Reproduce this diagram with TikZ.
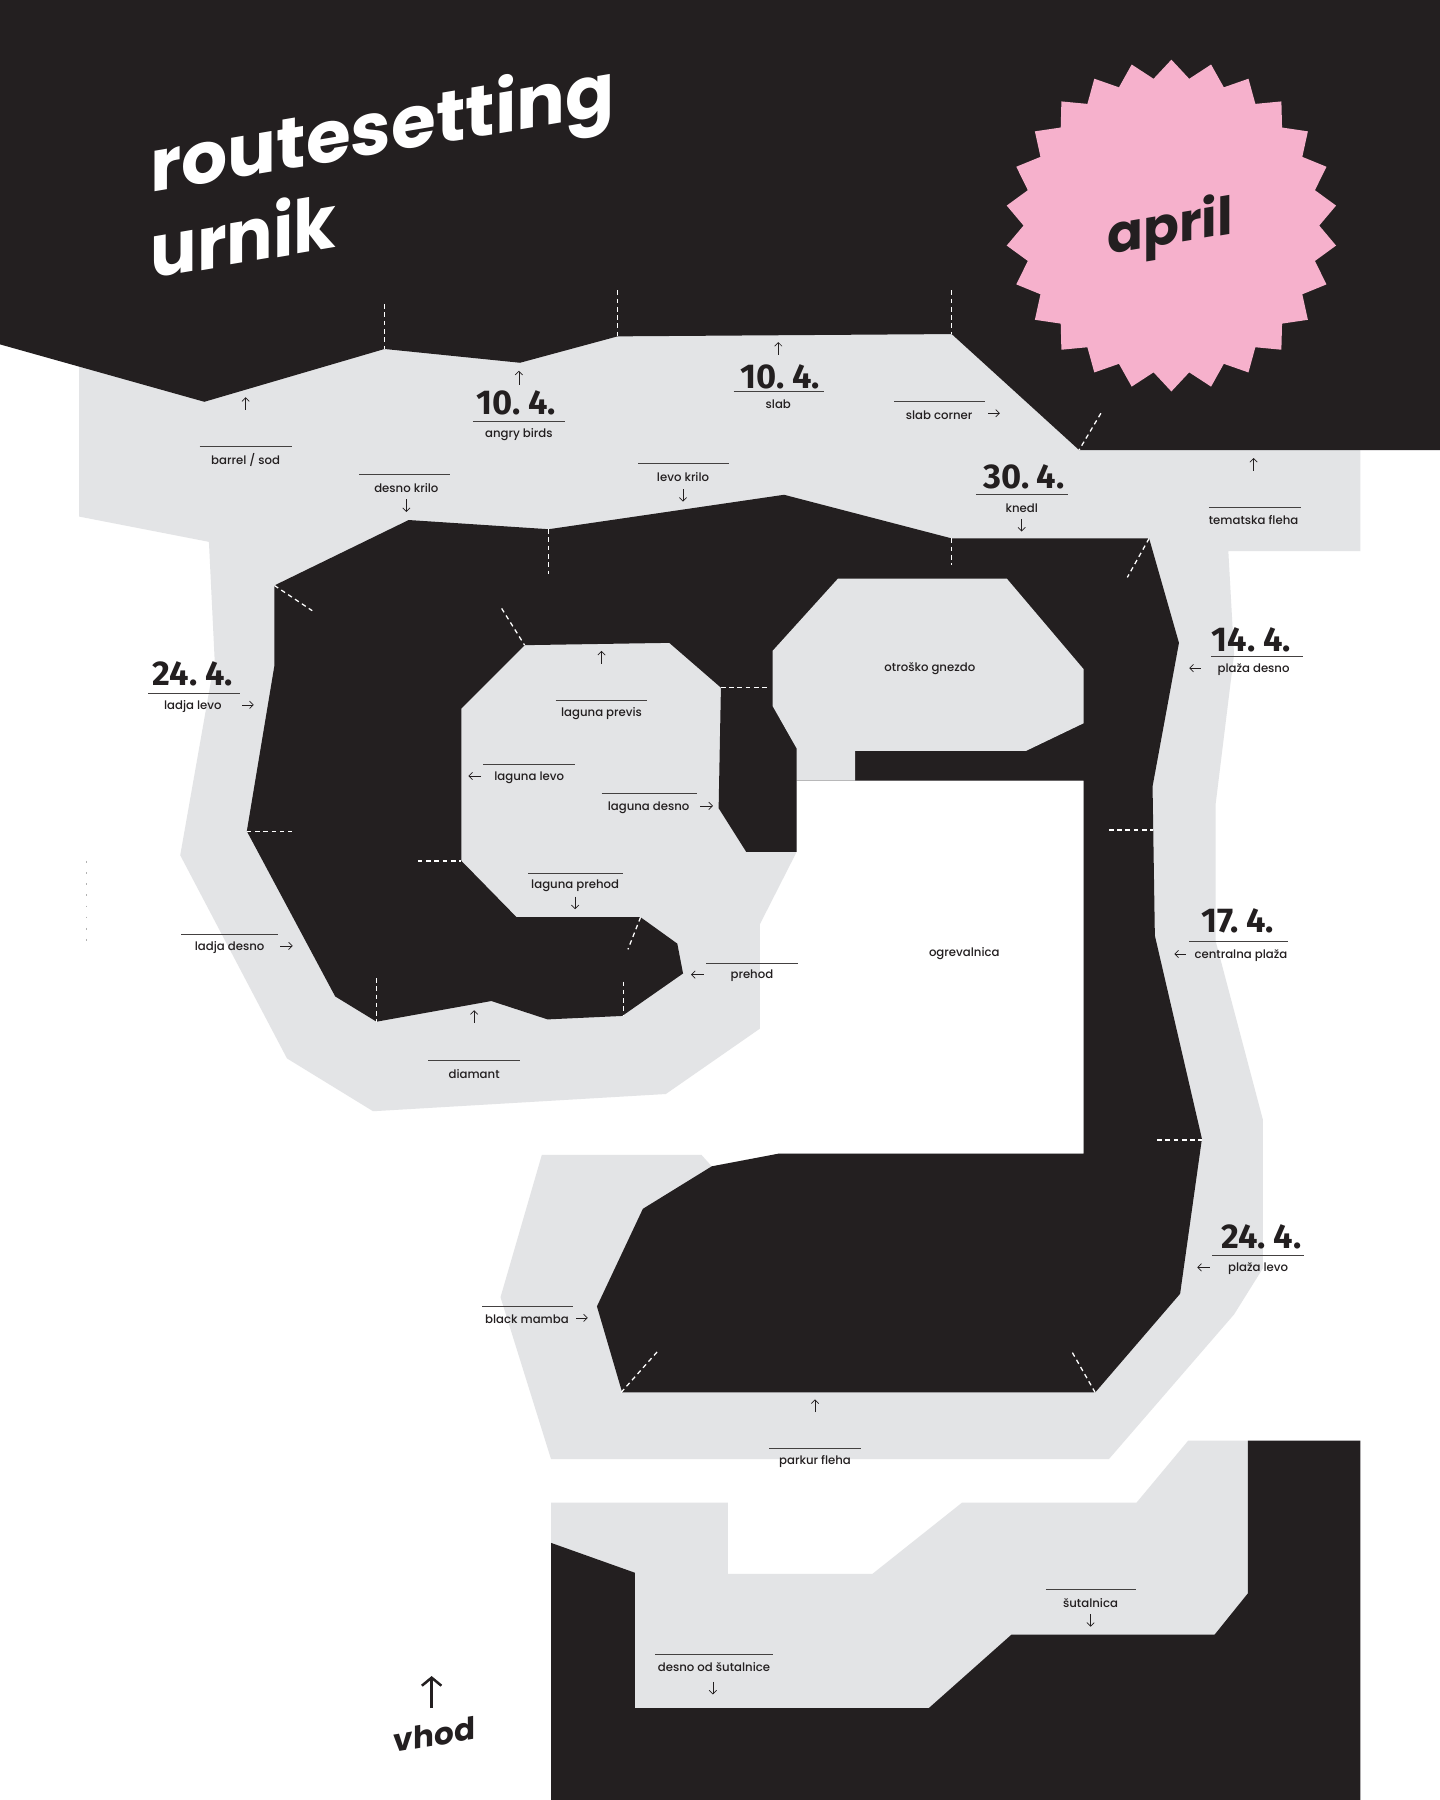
\documentclass[tikz,border=0pt]{standalone}
\usepackage{fontspec}
\usetikzlibrary{arrows.meta}
\setmainfont{Poppins}
\newfontfamily\labf{Poppins Medium}
\newfontfamily\titf{Poppins}[UprightFont=* Bold]
\newfontfamily\datf{Fira Sans}[UprightFont=* Bold,WordSpace=0.6]
\definecolor{ink}{HTML}{231F20}
\definecolor{wall}{HTML}{E3E4E6}
\definecolor{pinky}{HTML}{F6B1CC}
\tikzset{
  x=1pt,y=-1pt,
  inkfill/.style={fill=ink,draw=none},
  wallfill/.style={fill=wall,draw=none},
  sector/.style={draw=white,line width=1.1pt,dash pattern=on 4pt off 3.2pt},
  rulel/.style={draw=ink!85!white,line width=0.8pt},
  pointer/.style={draw=ink,line width=0.6pt,-{Straight Barb[length=3.2pt,width=6.4pt,line width=0.6pt]}},
  lab/.style={font=\labf\fontsize{10.2}{12}\selectfont,text=ink,inner sep=0pt,yshift=-1.3pt},
  datelab/.style={font=\datf\fontsize{30}{32}\selectfont,text=ink,inner sep=0pt},
}
% #1 name, #2 x, #3 y, #4 text, #5 rule left x, #6 rule right x, #7 rule y, #8 arrow tail, #9 arrow tip
\newcommand{\spot}[9]{%
  \node[lab] (#1) at (#2,#3) {#4};
  \coordinate (#1-l) at (#5,#7);
  \coordinate (#1-r) at (#6,#7);
  \draw[rulel] (#1-l) -- (#1-r);
  \coordinate (#1-a) at (#8);
  \coordinate (#1-b) at (#9);
  \draw[pointer] (#1-a) -- (#1-b);}
\begin{document}
\begin{tikzpicture}
\useasboundingbox (0,0) rectangle (1254.4,1568);
\fill[white] (0,0) rectangle (1254.4,1568);

% grey climbing floor
\path[wallfill] (69,280)--(1185,280)--(1185,480)--(1070,480)--(1075,570)--(1059,700)--(1059,820)--(1100,975)--(1100,1105)--(1075,1145)--(966,1271)--(480,1271)--(436,1130)--(472,1006)--(611,1006)--(620,1016)--(678,1005)--(944,1005)--(944,680)--(694,680)--(694,742)--(662,805)--(662,896)--(580,953)--(325,968)--(250,922)--(157,745)--(187,575)--(182,472)--(69,450)--cycle;

% dark header
\path[inkfill] (0,0)--(1254.4,0)--(1254.4,392)--(940,392)--(829,291)--(538,293)--(453,316)--(335,304)--(178,350)--(0,300)--cycle;

% dark main wall
\path[inkfill] (239,510)--(356,453)--(478,461)--(683,431)--(829,469)--(1001,469)--(1027,560)--(1004,685)--(1006,815)--(1047,992)--(1028,1127)--(954,1213)--(542,1213)--(520,1138)--(560,1053)--(620,1016)--(678,1005)--(944,1005)--(944,680)--(694,680)--(694,742)--(650,742)--(626,704)--(628,599)--(583,560)--(457,562)--(402,617)--(402,750)--(450,799)--(558,799)--(590,822)--(595,848)--(542,885)--(477,888)--(428,872)--(328,890)--(292,868)--(215,724)--(239,580)--cycle;

% children's nest
\path[wallfill] (730,504)--(877,504)--(944,583)--(944,630)--(894,654)--(745,654)--(745,680)--(694,680)--(694,652)--(673,615)--(673,567)--cycle;

% lower block
\path[wallfill] (480,1309)--(634,1309)--(634,1371)--(760,1371)--(838,1309)--(990,1309)--(1035,1255)--(1087,1255)--(1087,1400)--(1058,1430)--(809,1495)--(540,1495)--(540,1370)--(480,1344)--cycle;
\path[inkfill] (480,1344)--(553,1370)--(553,1488)--(809,1488)--(881,1424)--(1058,1424)--(1087,1388)--(1087,1255)--(1185,1255)--(1185,1568)--(480,1568)--cycle;

% sector marks
\foreach \ax/\ay/\bx/\by in {335/265/335/304,538/253/538/293,829/253/829/291,959/360/940/392,478/461/478/500,829/469/829/492,1001/469/982/503,239/510/272/532,437/530/457/562,628/599/668/599,215/724/254/724,364/750/402/750,966/723/1004/723,1008/993/1047/993,328/852/328/890,543/855/543/885,558/799/547/827,541/1213/573/1177,954/1213/934/1178}
  \draw[sector] (\ax,\ay) -- (\bx,\by);
\draw[draw=black!30,line width=0.7pt,dash pattern=on 1.5pt off 8.2pt] (75.5,750) -- (75.5,820);

% star
\begin{scope}[shift={(1020.4,196.5)}]
\fill[pinky] (90:144.5pt)
  \foreach \i in {0,...,25} { -- ({90+13.846*\i+6.923}:128.8pt) -- ({90+13.846*(\i+1)}:144.5pt) } -- cycle;
\end{scope}

% slanted headings
\begin{scope}[shift={(131,168)},yslant=.17]
\node[transform shape,anchor=base west,inner sep=0pt,text=white,font=\titf\fontsize{63.2}{70}\selectfont] (title1) at (0,0) {routesetting};
\end{scope}
\begin{scope}[shift={(131,243)},yslant=.17,xscale=.94]
\node[transform shape,anchor=base west,inner sep=0pt,text=white,font=\titf\fontsize{64}{70}\selectfont] (title2) at (0,0) {urnik};
\end{scope}
\begin{scope}[shift={(964.5,222)},yslant=.17]
\node[transform shape,anchor=base west,inner sep=0pt,text=ink,font=\titf\fontsize{46}{50}\selectfont] (month) at (0,0) {april};
\end{scope}
\begin{scope}[shift={(343,1527)},yslant=.17]
\node[transform shape,anchor=base west,inner sep=0pt,text=ink,font=\titf\fontsize{27}{30}\selectfont] (vhod) at (0,0) {vhod};
\end{scope}
\coordinate (va) at (376,1488);
\coordinate (vb) at (376,1460);
\draw[draw=ink,line width=2.2pt,-{Straight Barb[length=7pt,width=17pt,line width=2.2pt]}] (va) -- (vb);

% dates
\node[datelab] (d1) at (450,351) {10. 4.};
\node[datelab] (d2) at (680,328) {10. 4.};
\node[datelab] (d3) at (892,415) {30. 4.};
\node[datelab] (d4) at (168,587) {24. 4.};
\node[datelab] (d5) at (1090,557) {14. 4.};
\node[datelab] (d6) at (1078,802) {17. 4.};
\node[datelab] (d7) at (1099,1077) {24. 4.};

% spots
\spot{barrel}{214}{399}{barrel / sod}{174}{254}{389}{214,357}{214,346}
\spot{angry}{452}{377}{angry birds}{412}{492}{367}{452,335}{452,323}
\spot{slab}{678}{351}{slab}{639}{718}{341}{678,309}{678,298}
\spot{corner}{818}{360}{slab corner}{779}{858}{350}{861,360}{871,360}
\spot{knedl}{890}{441}{knedl}{850}{930}{431}{890,452}{890,463}
\spot{tema}{1092}{452}{tematska fleha}{1053}{1133}{442}{1092,410}{1092,399}
\spot{levok}{595}{414}{levo krilo}{556}{635}{404}{595,426}{595,437}
\spot{desnok}{354}{424}{desno krilo}{313}{392}{413}{354,435}{354,446}
\spot{ladjal}{168}{614}{ladja levo}{129}{209}{604}{211,614}{221,614}
\spot{plazad}{1092}{582}{plaža desno}{1055}{1135}{572}{1046,582}{1036,582}
\spot{previs}{524}{620}{laguna previs}{484}{564}{610}{524,578}{524,567}
\spot{lagl}{461}{676}{laguna levo}{421}{501}{666}{419,676}{408,676}
\spot{lagd}{565}{702}{laguna desno}{524}{607}{691}{610,702}{621,702}
\spot{lagp}{501}{770}{laguna prehod}{460}{543}{761}{501,781}{501,792}
\spot{ladjad}{200}{824}{ladja desno}{158}{242}{814}{244,824}{255,824}
\spot{prehod}{655}{849}{prehod}{615}{695}{839}{613,849}{602,849}
\spot{centr}{1081}{831}{centralna plaža}{1036}{1122}{820}{1033,831}{1023,831}
\spot{diam}{413}{934}{diamant}{373}{453}{924}{413,891}{413,880}
\spot{plazal}{1096}{1104}{plaža levo}{1056}{1136}{1094}{1054,1104}{1043,1104}
\spot{mamba}{459}{1148}{black mamba}{420}{499}{1138}{502,1148}{512,1148}
\spot{parkur}{710}{1272}{parkur fleha}{670}{750}{1262}{710,1230}{710,1219}
\spot{sut}{950}{1395}{šutalnica}{911}{990}{1385}{950,1406}{950,1417}
\spot{odsut}{622}{1451}{desno od šutalnice}{571}{673}{1441}{621,1465}{621,1476}

% room names
\node[lab] (nest) at (810,581) {otroško gnezdo};
\node[lab] (warm) at (840,829) {ogrevalnica};
\end{tikzpicture}
\end{document}
